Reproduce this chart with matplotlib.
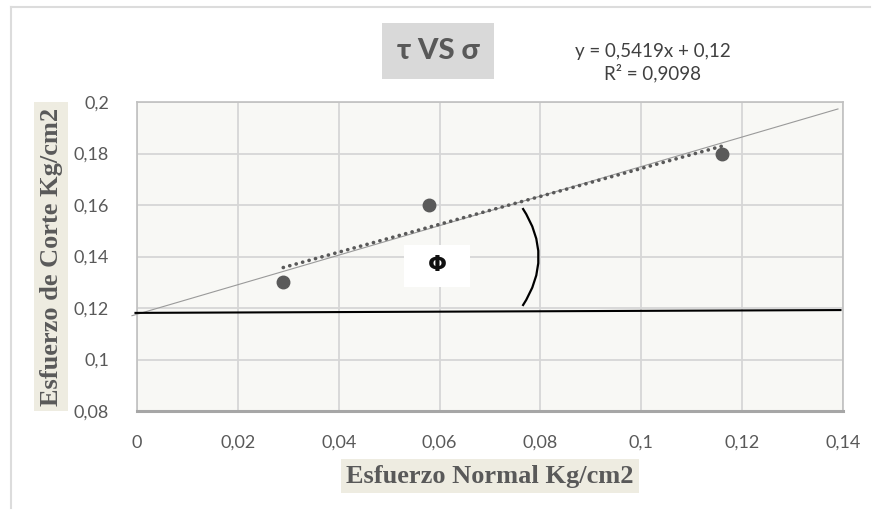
import matplotlib
matplotlib.use("Agg")
import matplotlib.pyplot as plt
import numpy as np
from matplotlib.patches import Rectangle, PathPatch
from matplotlib.path import Path

# datos del ensayo de corte directo
sigma = [0.029, 0.058, 0.116]      # esfuerzo normal
tau = [0.13, 0.16, 0.18]           # esfuerzo de corte

x_ticks = [0, 0.02, 0.04, 0.06, 0.08, 0.1, 0.12, 0.14]
x_labels = ['0', '0,02', '0,04', '0,06', '0,08', '0,1', '0,12', '0,14']
y_ticks = [0.08, 0.1, 0.12, 0.14, 0.16, 0.18, 0.2]
y_labels = ['0,08', '0,1', '0,12', '0,14', '0,16', '0,18', '0,2']

# lineas dibujadas a mano sobre el grafico
env_x = [-0.001, 0.139]
env_y = [0.117, 0.1973]
hor_x = [-0.0003, 0.1395]
hor_y = [0.1181, 0.1192]
arc_pts = [(0.07645, 0.1588), (0.0828, 0.1398), (0.07645, 0.1208)]

txt_gray = '#595959'
sans = 'Lato'
serif = 'Liberation Serif'

fig = plt.figure(figsize=(8.74, 5.14), dpi=100)
ax = fig.add_axes([137 / 874, 103 / 514, 706 / 874, 309 / 514])
ax.set_facecolor('#f8f8f5')

# trend line (least squares)
m, b = np.polyfit(sigma, tau, 1)
xt = np.array([min(sigma), max(sigma)])
ax.plot(xt, m * xt + b, linestyle=(0, (0.05, 1.8)), dash_capstyle='round',
        color=txt_gray, lw=2.6, zorder=4)

ax.plot(sigma, tau, 'o', color='#5a5a5a', markersize=9, zorder=5)

ax.plot(env_x, env_y, color='#9a9a9a', lw=0.8, zorder=3, clip_on=False)
ax.plot(hor_x, hor_y, color='black', lw=1.5, zorder=3, clip_on=False)

arc = Path(arc_pts, [Path.MOVETO, Path.CURVE3, Path.CURVE3])
ax.add_patch(PathPatch(arc, facecolor='none', edgecolor='black', lw=1.6, zorder=4))

ax.add_patch(Rectangle((0.0530, 0.1280), 0.0131, 0.0165, facecolor='white',
                       edgecolor='none', zorder=4))
ax.text(0.0596, 0.1367, 'Φ', fontsize=16, fontweight='bold', ha='center', va='center',
        color='#111111', family='DejaVu Sans', zorder=5)

ax.set_xlim(0, 0.14)
ax.set_ylim(0.08, 0.2)
ax.set_xticks(x_ticks)
ax.set_xticklabels(x_labels)
ax.set_yticks(y_ticks)
ax.set_yticklabels(y_labels)
ax.tick_params(length=0, labelsize=13, labelcolor=txt_gray)
ax.tick_params(axis='x', pad=17)
ax.tick_params(axis='y', pad=20)
for lab in ax.get_xticklabels() + ax.get_yticklabels():
    lab.set_family(sans)
ax.grid(True, color='#d6d6d6', lw=1.3)
ax.set_axisbelow(True)
for s in ax.spines.values():
    s.set_color('#c0c0c0')
    s.set_linewidth(1.2)
ax.spines['bottom'].set_color('#a6a6a6')
ax.spines['bottom'].set_linewidth(2.2)

ax.set_xlabel('Esfuerzo Normal Kg/cm2', fontsize=19, fontweight='bold', family=serif,
              color=txt_gray, labelpad=10,
              bbox=dict(facecolor='#eeece1', edgecolor='none', pad=4))
ax.set_ylabel('Esfuerzo de Corte Kg/cm2', fontsize=19, fontweight='bold', family=serif,
              color=txt_gray, labelpad=8,
              bbox=dict(facecolor='#eeece1', edgecolor='none', pad=4))

# titulo y ecuacion
fig.text(438 / 874, 1 - 51 / 514, 'τ VS σ', fontsize=21, fontweight='black', color=txt_gray,
         family=sans, ha='center', va='center',
         bbox=dict(facecolor='#d9d9d9', edgecolor='none', boxstyle='square,pad=0.5'))
fig.text(653 / 874, 1 - 51 / 514, 'y = 0,5419x + 0,12', fontsize=13.5, color='#404040',
         family=sans, ha='center', va='center')
fig.text(653 / 874, 1 - 73 / 514, 'R² = 0,9098', fontsize=13.5, color='#404040',
         family=sans, ha='center', va='center')

# marco exterior
fig.add_artist(plt.Line2D([11 / 874, 870 / 874], [1 - 7 / 514, 1 - 7 / 514],
                          color='#dcdcdc', lw=1.5))
fig.add_artist(plt.Line2D([11 / 874, 11 / 874], [1 - 7 / 514, 1 - 508 / 514],
                          color='#dcdcdc', lw=1.5))

fig.savefig('out.png', dpi=100, facecolor='white')
